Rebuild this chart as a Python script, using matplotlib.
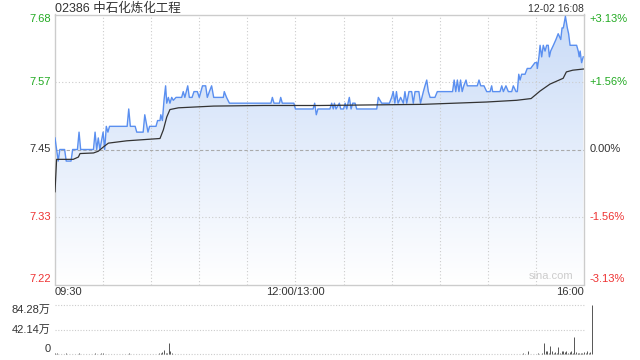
import numpy as np
import matplotlib.pyplot as plt
import matplotlib.transforms as mtransforms
from matplotlib.patches import Polygon

plt.rcParams['font.family'] = ['Liberation Sans', 'Noto Sans CJK SC']

# ---- data ----
title = "02386 中石化炼化工程"
stamp = "12-02 16:08"
prev_close = 7.45
pct_ticks = [3.13, 1.56, 0.00, -1.56, -3.13]
time_labels = ["09:30", "12:00/13:00", "16:00"]
time_label_pos = [0, 150, 330]
vol_ticks = [84.28, 42.14, 0]

# minutes since 09:30 (lunch removed), price
price_t = [0, 2, 3, 6, 7, 10, 11, 14, 15, 16, 24, 25, 26, 27, 28, 30, 31, 32, 33, 34,
           45, 46, 47, 50, 51, 55, 56, 58, 59, 63, 64, 65.5, 66, 67, 68, 69, 69.7, 70.7,
           71.7, 72.8, 73.8, 75.5, 79, 80, 81, 82.8, 83.8, 85.5, 86.7, 88.8, 90, 91, 92,
           94, 95, 96.3, 97.7, 99, 105, 105.6, 107, 108.8, 134.7, 135.6, 136.6, 140,
           140.8, 141.8, 149, 150, 161, 162, 163, 164, 171.5, 172.6, 173.6, 174.3, 175.3,
           177.4, 178.2, 180, 181, 182, 183.6, 184.7, 185.7, 187.2, 188.2, 200.7, 201.7,
           203.8, 208.6, 210, 211, 212, 213, 214, 215.6, 217.3, 218.3, 219.4, 220.8, 222.5,
           223.5, 224.6, 227, 228, 229.8, 230.8, 231.9, 232.9, 234, 237, 238.5, 248, 249,
           250, 251, 252, 253, 254, 255, 256.4, 257.2, 263.4, 264.5, 265.6, 267.6, 269.3,
           271.4, 272.4, 273, 277.6, 278.7, 279.7, 281.3, 282.8, 284.9, 285.9, 287.6,
           288.4, 289.3, 290.1, 291.1, 293.2, 294.6, 296.7, 299.4, 300.5, 300.9, 301.9,
           302.6, 303.6, 304.6, 305.7, 306.7, 307.7, 308.4, 309.2, 310.9, 312.5, 313.9,
           315.5, 316.3, 317.1, 318.4, 319.6, 320.4, 321.3, 325.4, 326.4, 327, 327.6,
           328.5, 329.5]
price = [7.47, 7.43, 7.45, 7.45, 7.43, 7.43, 7.45, 7.45, 7.48, 7.45, 7.45, 7.48, 7.45,
         7.47, 7.45, 7.48, 7.45, 7.49, 7.48, 7.49, 7.49, 7.52, 7.49, 7.49, 7.48, 7.48,
         7.51, 7.48, 7.49, 7.49, 7.50, 7.50, 7.51, 7.50, 7.535, 7.56, 7.53, 7.54, 7.53,
         7.54, 7.535, 7.54, 7.54, 7.55, 7.54, 7.56, 7.54, 7.54, 7.55, 7.55, 7.54, 7.55,
         7.56, 7.56, 7.54, 7.55, 7.56, 7.54, 7.54, 7.55, 7.54, 7.53, 7.53, 7.54, 7.53,
         7.53, 7.54, 7.53, 7.53, 7.52, 7.52, 7.53, 7.51, 7.52, 7.52, 7.53, 7.52, 7.53,
         7.52, 7.53, 7.52, 7.52, 7.53, 7.52, 7.54, 7.52, 7.53, 7.53, 7.52, 7.52, 7.54,
         7.53, 7.53, 7.54, 7.55, 7.53, 7.55, 7.53, 7.54, 7.53, 7.55, 7.53, 7.55, 7.55,
         7.53, 7.55, 7.55, 7.53, 7.55, 7.56, 7.57, 7.55, 7.54, 7.54, 7.55, 7.55, 7.57,
         7.55, 7.57, 7.55, 7.57, 7.55, 7.56, 7.57, 7.56, 7.56, 7.57, 7.56, 7.56, 7.55,
         7.55, 7.56, 7.55, 7.55, 7.56, 7.55, 7.56, 7.55, 7.55, 7.56, 7.55, 7.55, 7.58,
         7.57, 7.58, 7.58, 7.59, 7.59, 7.60, 7.60, 7.59, 7.61, 7.63, 7.61, 7.63, 7.62,
         7.63, 7.63, 7.61, 7.62, 7.63, 7.64, 7.65, 7.64, 7.66, 7.66, 7.68, 7.66, 7.65,
         7.63, 7.63, 7.62, 7.61, 7.62, 7.60, 7.61]

# average price line
avg_t = [0, 1, 11.4, 14.6, 15.6, 24, 27, 30, 33.3, 44.7, 65.5, 67.6, 69.7, 71.7, 77,
         99, 130, 165, 229.6, 269, 288, 297, 302.6, 308.8, 317, 319, 323, 329.6]
avg = [7.377, 7.433, 7.433, 7.437, 7.443, 7.444, 7.447, 7.454, 7.461, 7.465, 7.469,
       7.484, 7.506, 7.519, 7.522, 7.525, 7.526, 7.526, 7.528, 7.532, 7.535, 7.538,
       7.551, 7.563, 7.573, 7.584, 7.587, 7.589]

# volume per minute, in 万 shares (one row per 30 minutes)
vol = [2.0, 1.5, 1.0, 0.8, 1.2, 0.6, 1.0, 1.4, 0.9, 0.5, 1.1, 0.7, 1.3, 0.6, 0.8,
       1.6, 0.5, 0.9, 1.2, 0.4, 0.8, 1.0, 0.6, 1.3, 0.5, 1.5, 0.7, 0.9, 0.6, 1.4,
       1.5, 0.6, 1.2, 0.8, 1.0, 0.5, 0.7, 1.1, 0.4, 0.9, 0.6, 1.0, 0.5, 0.8, 1.2,
       0.6, 1.4, 0.5, 0.7, 0.9, 0.4, 1.0, 0.6, 0.8, 1.1, 0.5, 1.3, 0.7, 0.6, 0.9,
       0.8, 1.0, 0.6, 1.2, 0.9, 1.5, 2.0, 3.5, 7.0, 1.5, 3.0, 20.0, 5.0, 2.5, 1.2,
       0.8, 1.0, 0.6, 0.9, 0.7, 1.1, 0.5, 0.8, 0.6, 1.0, 0.7, 0.9, 0.5, 0.8, 0.6,
       1.0, 0.5, 0.8, 1.1, 0.6, 0.9, 0.4, 1.0, 0.7, 0.5, 1.2, 0.6, 0.8, 0.4, 1.0,
       0.7, 0.5, 0.9, 0.6, 1.1, 0.4, 0.8, 0.6, 1.0, 0.5, 0.7, 0.9, 0.4, 0.8, 0.6,
       0.7, 0.5, 1.0, 0.6, 0.8, 0.4, 0.9, 0.6, 1.1, 0.5, 0.7, 0.8, 0.4, 1.0, 0.6,
       0.9, 0.5, 0.7, 1.2, 0.4, 0.8, 0.6, 1.0, 0.5, 0.7, 0.9, 0.4, 0.8, 0.6, 1.0,
       1.2, 0.6, 0.9, 0.5, 1.0, 0.7, 0.4, 0.8, 0.6, 1.1, 0.5, 0.9, 0.6, 0.8, 0.4,
       1.0, 0.7, 0.5, 0.9, 0.6, 0.8, 0.4, 1.0, 0.6, 0.7, 0.5, 0.9, 0.6, 0.8, 0.5,
       0.7, 1.0, 0.5, 0.8, 0.6, 0.9, 0.4, 1.1, 0.6, 0.7, 0.5, 0.8, 0.6, 1.0, 0.4,
       0.9, 0.6, 0.7, 0.5, 1.0, 0.6, 0.8, 0.4, 0.9, 0.7, 0.5, 0.8, 0.6, 1.0, 0.5,
       0.8, 0.6, 1.2, 0.5, 0.7, 0.9, 0.4, 1.0, 0.6, 0.8, 0.5, 1.1, 0.6, 0.7, 0.9,
       0.5, 1.0, 0.6, 0.8, 0.4, 0.9, 0.7, 1.0, 0.5, 0.8, 0.6, 0.9, 0.4, 1.0, 0.7,
       0.6, 0.9, 0.5, 1.0, 0.7, 0.8, 0.5, 1.1, 0.6, 0.9, 0.7, 0.5, 1.0, 0.6, 0.8,
       0.5, 0.9, 0.6, 1.2, 0.7, 0.5, 0.8, 0.6, 1.0, 0.7, 0.9, 0.5, 0.8, 0.6, 1.0,
       0.7, 0.9, 0.6, 1.0, 0.5, 0.8, 0.7, 1.1, 0.6, 0.9, 0.5, 1.0, 0.8, 0.6, 1.2,
       0.7, 0.9, 1.0, 0.6, 1.2, 0.8, 1.0, 1.5, 0.9, 1.2, 5.7, 1.0, 1.3, 0.8, 1.2,
       1.0, 1.4, 0.9, 1.2, 1.5, 19.0, 5.0, 6.0, 2.0, 15.0, 5.0, 3.0, 3.5, 2.0, 13.0,
       2.0, 5.0, 6.0, 3.5, 5.0, 2.0, 3.5, 5.0, 2.0, 30.0, 3.5, 2.0, 2.5, 2.5, 2.0,
       3.5, 2.0, 5.0, 1.5, 4.0, 84.28]

green = '#22aa22'
red = '#ee3333'
dark = '#333333'
grid_c = '#cccccc'

fig = plt.figure(figsize=(6.4, 3.6), dpi=100)
ax = fig.add_axes([55 / 640, 75.5 / 360, 529 / 640, 270 / 360])
axv = fig.add_axes([55 / 640, 5.7 / 360, 529 / 640, 49.3 / 360])

levels = [prev_close * (1 + p / 100) for p in pct_ticks]
ylo, yhi = levels[-1], levels[0]
ax.set_xlim(0, 330)
ax.set_ylim(ylo, yhi)

# gradient fill under the price line
verts = list(zip(price_t, price)) + [(price_t[-1], ylo), (price_t[0], ylo)]
poly = Polygon(verts, closed=True, facecolor='none', edgecolor='none')
ax.add_patch(poly)
g = np.linspace(1, 0, 256)[:, None, None]
top_c = np.array([0.79, 0.86, 0.97])
bot_c = np.array([1.0, 1.0, 1.0])
img = bot_c + (top_c - bot_c) * g
im = ax.imshow(img, extent=[0, 330, ylo, yhi], aspect='auto', origin='upper', zorder=1)
im.set_clip_path(poly)

# grid
for m in range(30, 330, 30):
    ax.axvline(m, color=grid_c, lw=0.8, ls=(0, (1, 2)), zorder=2)
for lv in [levels[1], levels[3]]:
    ax.axhline(lv, color=grid_c, lw=0.8, ls=(0, (1, 2)), zorder=2)
ax.axhline(prev_close, color='#aaaaaa', lw=0.8, ls=(0, (3, 2)), zorder=2)

ax.plot(price_t, price, color='#5a8ff0', lw=1.0, zorder=4)
ax.plot(avg_t, avg, color='#333333', lw=0.9, zorder=5)

for s in ax.spines.values():
    s.set_color('#cccccc')
    s.set_linewidth(1.0)
ax.set_xticks([])
ax.set_yticks([])

# axis labels
left_tr = mtransforms.blended_transform_factory(ax.transAxes, ax.transData)
vas = ['top', 'center', 'center', 'center', 'bottom']
for p, lv, va in zip(pct_ticks, levels, vas):
    c = green if p > 0 else (red if p < 0 else dark)
    ax.text(-0.008, lv, f"{lv:.2f}", transform=left_tr, ha='right', va=va,
            fontsize=8, color=c)
    ax.text(1.011, lv, f"{p:+.2f}%" if p != 0 else "0.00%", transform=left_tr,
            ha='left', va=va, fontsize=8, color=c)

bot_tr = mtransforms.blended_transform_factory(ax.transData, ax.transAxes)
for lab, pos, ha in zip(time_labels, time_label_pos, ['left', 'center', 'right']):
    ax.text(pos, -0.01, lab, transform=bot_tr, ha=ha, va='top', fontsize=8, color=dark)

ax.text(0, 1.009, title, transform=ax.transAxes, ha='left', va='baseline',
        fontsize=9, color=dark)
ax.text(1, 1.009, stamp, transform=ax.transAxes, ha='right', va='baseline',
        fontsize=7.5, color=dark)
ax.text(0.979, 0.012, "sina.com", transform=ax.transAxes, ha='right', va='bottom',
        fontsize=8, color='#cccccc')

# volume panel
minutes = np.arange(len(vol))
axv.set_xlim(0, 330)
axv.set_ylim(0, vol_ticks[0])
for v in vol_ticks:
    axv.axhline(v, color=grid_c, lw=0.8, ls=(0, (1, 1.5)), zorder=1, clip_on=False)
axv.vlines(minutes, 0, vol, color='#555555', lw=0.7, zorder=3, clip_on=False)
for s in axv.spines.values():
    s.set_visible(False)
axv.set_xticks([])
axv.set_yticks([])
vtr = mtransforms.blended_transform_factory(axv.transAxes, axv.transData)
for v, va in zip(vol_ticks, ['top', 'center', 'bottom']):
    lab = f"{v:.2f}万" if v else "0"
    axv.text(-0.008, v, lab, transform=vtr, ha='right', va=va, fontsize=8, color=dark)

fig.savefig("out.png", dpi=100)
